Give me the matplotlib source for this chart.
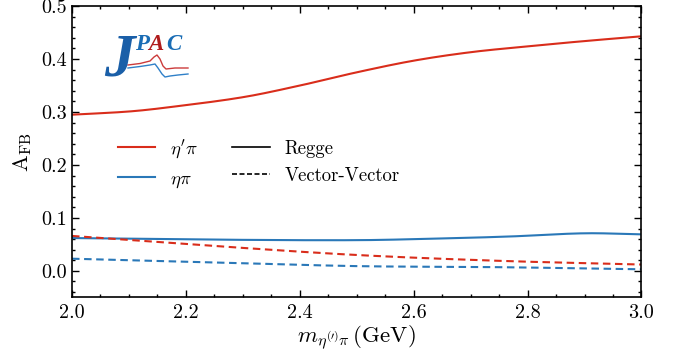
import matplotlib
matplotlib.use("Agg")
import matplotlib.pyplot as plt
import numpy as np
from matplotlib.ticker import MultipleLocator, FormatStrFormatter
from matplotlib.lines import Line2D

plt.rcParams['font.family'] = 'serif'
plt.rcParams['font.serif'] = ['cmr10', 'DejaVu Serif']
plt.rcParams['mathtext.fontset'] = 'cm'
plt.rcParams['axes.formatter.use_mathtext'] = True
plt.rcParams['axes.unicode_minus'] = False

# Data
m_rs = [2.0, 2.1, 2.17, 2.3, 2.4, 2.5, 2.6, 2.7, 2.8, 2.9, 3.0]
etap_regge = [0.295, 0.301, 0.309, 0.328, 0.350, 0.375, 0.397, 0.413, 0.424, 0.434, 0.443]

m_bs = [2.0, 2.25, 2.5, 2.64, 2.77, 2.9, 3.0]
eta_regge = [0.062, 0.059, 0.058, 0.061, 0.065, 0.071, 0.069]

m_d = [2.0, 2.25, 2.5, 2.75, 3.0]
etap_vv = [0.066, 0.047, 0.030, 0.019, 0.012]
eta_vv = [0.023, 0.016, 0.009, 0.007, 0.003]

red = '#d92d1b'
blue = '#2a78b8'

fig = plt.figure(figsize=(6.82, 3.6), dpi=100)
ax = fig.add_axes([0.1056, 0.174, 0.835, 0.809])


def smooth(x, y, n=300):
    """Cubic Hermite (Catmull-Rom style) curve through the read points."""
    x = np.asarray(x, float)
    y = np.asarray(y, float)
    xs = np.linspace(x[0], x[-1], n)
    out = np.empty_like(xs)
    for k, xv in enumerate(xs):
        i = int(np.clip(np.searchsorted(x, xv, side='right') - 1, 0, len(x) - 2))
        x0, x1, y0, y1 = x[i], x[i + 1], y[i], y[i + 1]
        m0 = (y[i + 1] - y[i - 1]) / (x[i + 1] - x[i - 1]) if i > 0 else (y1 - y0) / (x1 - x0)
        m1 = (y[i + 2] - y[i]) / (x[i + 2] - x[i]) if i + 2 < len(x) else (y1 - y0) / (x1 - x0)
        h = x1 - x0
        t = (xv - x0) / h
        out[k] = ((2*t**3 - 3*t**2 + 1)*y0 + (t**3 - 2*t**2 + t)*h*m0
                  + (-2*t**3 + 3*t**2)*y1 + (t**3 - t**2)*h*m1)
    return xs, out


dash = (3.6, 2.2)
ax.plot(*smooth(m_rs, etap_regge), color=red, lw=1.5)
ax.plot(*smooth(m_bs, eta_regge), color=blue, lw=1.5)
ax.plot(*smooth(m_d, etap_vv), color=red, lw=1.5, ls='--', dashes=dash)
ax.plot(*smooth(m_d, eta_vv), color=blue, lw=1.5, ls='--', dashes=dash)

ax.set_xlim(2.0, 3.0)
ax.set_ylim(-0.05, 0.5)
ax.xaxis.set_major_locator(MultipleLocator(0.2))
ax.xaxis.set_minor_locator(MultipleLocator(0.05))
ax.yaxis.set_major_locator(MultipleLocator(0.1))
ax.yaxis.set_minor_locator(MultipleLocator(0.02))
ax.xaxis.set_major_formatter(FormatStrFormatter('%.1f'))
ax.yaxis.set_major_formatter(FormatStrFormatter('%.1f'))
ax.tick_params(which='both', direction='in', top=True, right=True, labelsize=14.5, width=1.0)
ax.tick_params(which='major', length=5)
ax.tick_params(which='minor', length=2.5)
ax.tick_params(axis='x', pad=5)
for s in ax.spines.values():
    s.set_linewidth(1.2)

ax.set_xlabel(r'$m_{\eta^{(\prime)}\pi}\,(\mathrm{GeV})$', fontsize=16.5, labelpad=1)
ax.set_ylabel(r'$\mathrm{A}_{\mathrm{FB}}$', fontsize=16, labelpad=5)

h1 = Line2D([], [], color=red, lw=1.5)
h2 = Line2D([], [], color=blue, lw=1.5)
h3 = Line2D([], [], color='black', lw=1.2)
h4 = Line2D([], [], color='black', lw=1.2, ls='--', dashes=(3, 1.5))
ax.legend([h1, h2, h3, h4], [r"$\eta'\pi$", r'$\eta\pi$', 'Regge', 'Vector-Vector'],
          ncol=2, frameon=False, fontsize=13.5, loc='upper left',
          bbox_to_anchor=(0.0807, 0.55), borderaxespad=0, borderpad=0,
          handlelength=2.0, columnspacing=1.8, labelspacing=0.5, handletextpad=0.8)

# JPAC logo (decorative)
lax = fig.add_axes([100/682, 1 - 84/360, 92/682, 58/360])
lax.set_xlim(0, 92)
lax.set_ylim(58, 0)
lax.axis('off')
lax.text(19, 63, 'J', color='#1a5fa8', fontsize=44, fontweight='bold', style='italic',
         family='Liberation Serif', ha='center', va='bottom')
lax.text(35, 24, 'P', color='#1a6db5', fontsize=16.5, style='italic', fontweight='bold',
         family='Liberation Serif', ha='left', va='baseline')
lax.text(48, 24, 'A', color='#b01c1c', fontsize=16.5, style='italic', fontweight='bold',
         family='Liberation Serif', ha='left', va='baseline')
lax.text(66, 24, 'C', color='#1a6db5', fontsize=16.5, style='italic', fontweight='bold',
         family='Liberation Serif', ha='left', va='baseline')
logo_rx = [28, 40, 50, 54, 57, 60, 63, 66, 75, 88]
logo_ry = [39, 37.5, 35, 31, 29, 33, 40, 43, 42, 42]
logo_bx = [28, 40, 50, 55, 58, 62, 65, 70, 78, 88]
logo_by = [42, 40.5, 39, 38, 42, 48, 51, 50, 49, 48]
lax.plot(logo_rx, logo_ry, color='#cc3b3b', lw=1.0)
lax.plot(logo_bx, logo_by, color='#2f80c8', lw=1.0)

fig.savefig('out.png', dpi=100)
